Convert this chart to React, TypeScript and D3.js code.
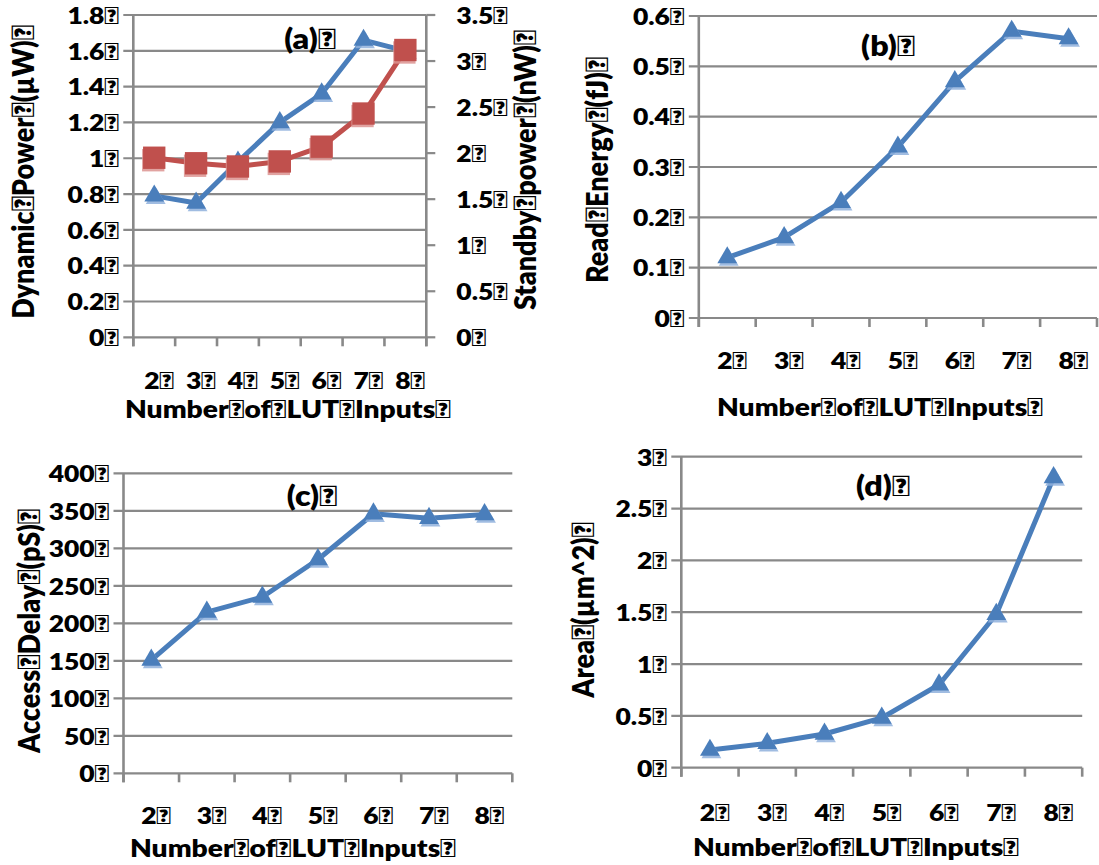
import React from 'react';
import * as d3 from 'd3';

const T = '\uF020';
const categories = ['2', '3', '4', '5', '6', '7', '8'];
const dynamicPower = [0.79, 0.75, 0.98, 1.2, 1.36, 1.66, 1.6];
const standbyPower = [1.95, 1.89, 1.855, 1.91, 2.07, 2.43, 3.12];
const readEnergy = [0.12, 0.16, 0.23, 0.34, 0.47, 0.57, 0.555];
const accessDelay = [151, 215, 235, 285, 346, 340, 345];
const areaVals = [0.17, 0.235, 0.325, 0.48, 0.8, 1.48, 2.8];

const ticksA = [0, 0.2, 0.4, 0.6, 0.8, 1, 1.2, 1.4, 1.6, 1.8];
const ticksARight = [0, 0.5, 1, 1.5, 2, 2.5, 3, 3.5];
const ticksB = [0, 0.1, 0.2, 0.3, 0.4, 0.5, 0.6];
const ticksC = [0, 50, 100, 150, 200, 250, 300, 350, 400];
const ticksD = [0, 0.5, 1, 1.5, 2, 2.5, 3];

const xTitle = 'Number' + T + 'of' + T + 'LUT' + T + 'Inputs' + T;

const BLUE = '#4a7ebb';
const BLUE_SH = '#8fb0dc';
const RED = '#c0504d';
const RED_SH = '#dc9391';
const GRID = '#898989';
const FONT = 'Lato, "Open Sans", sans-serif';
const SX = 1.15;

function HText(props: { x: number; y: number; anchor: string; size: number; children: string }) {
  return (
    <text
      transform={`translate(${props.x},${props.y}) scale(${SX},1)`}
      textAnchor={props.anchor}
      dominantBaseline="central"
      fontSize={props.size}
    >
      {props.children}
    </text>
  );
}

function VText(props: { x: number; y: number; size: number; children: string }) {
  return (
    <text
      transform={`translate(${props.x},${props.y}) rotate(-90) scale(1,${SX})`}
      textAnchor="middle"
      dominantBaseline="central"
      fontSize={props.size}
    >
      {props.children}
    </text>
  );
}

type Series = { values: number[]; color: string; shadow: string; marker: 'tri' | 'sq'; axis: 'l' | 'r' };
type PanelProps = {
  box: { left: number; right: number; top: number; bottom: number };
  domain: number;
  ticks: number[];
  rDomain?: number;
  rTicks?: number[];
  series: Series[];
  tag: string;
  tagPos: [number, number];
  yLabel: string;
  yLabelPos: [number, number];
  rLabel?: string;
  rLabelPos?: [number, number];
  catY: number;
  titlePos: [number, number];
};

function Panel(p: PanelProps) {
  const { box } = p;
  const x = d3.scaleBand<string>().domain(categories).range([box.left, box.right]);
  const y = d3.scaleLinear().domain([0, p.domain]).range([box.bottom, box.top]);
  const yr = p.rDomain ? d3.scaleLinear().domain([0, p.rDomain]).range([box.bottom, box.top]) : y;
  const bounds = categories.map((c) => x(c) as number).concat([box.right]);
  const tri = d3.symbol(d3.symbolTriangle, 170)() as string;
  const sq = d3.symbol(d3.symbolSquare, 500)() as string;
  const fs = 23;
  return (
    <g fontFamily={FONT} fontWeight={800} fill="#000">
      {p.ticks.map((t) => (
        <g key={'g' + t}>
          <line x1={box.left - 10} x2={box.right} y1={y(t)} y2={y(t)} stroke={GRID} strokeWidth={2.2} />
          <HText x={box.left - 14} y={y(t)} anchor="end" size={fs}>
            {String(t) + T}
          </HText>
        </g>
      ))}
      <line x1={box.left} x2={box.left} y1={box.top} y2={box.bottom + 9} stroke={GRID} strokeWidth={2.6} />
      {bounds.map((b, i) => (
        <line key={'xt' + i} x1={b} x2={b} y1={box.bottom} y2={box.bottom + 9} stroke={GRID} strokeWidth={2.6} />
      ))}
      {p.rDomain && p.rTicks && (
        <g>
          <line x1={box.right} x2={box.right} y1={box.top} y2={box.bottom + 9} stroke={GRID} strokeWidth={2.6} />
          {p.rTicks.map((t) => (
            <g key={'r' + t}>
              <line x1={box.right} x2={box.right + 9} y1={yr(t)} y2={yr(t)} stroke={GRID} strokeWidth={2.2} />
              <HText x={box.right + 30} y={yr(t)} anchor="start" size={fs}>
                {String(t) + T}
              </HText>
            </g>
          ))}
        </g>
      )}
      {categories.map((c) => (
        <HText key={'c' + c} x={(x(c) as number) + x.bandwidth() / 2 + 5} y={p.catY} anchor="middle" size={fs}>
          {c + T}
        </HText>
      ))}
      {p.series.map((s, si) => {
        const sc = s.axis === 'r' ? yr : y;
        const line = d3
          .line<number>()
          .x((_, i) => (x(categories[i]) as number) + x.bandwidth() / 2)
          .y((v) => sc(v));
        return (
          <g key={'s' + si}>
            <path d={line(s.values) as string} fill="none" stroke={s.color} strokeWidth={5} strokeLinejoin="round" />
            {s.values.map((v, i) => {
              const cx = (x(categories[i]) as number) + x.bandwidth() / 2;
              const cy = sc(v);
              const d = s.marker === 'tri' ? tri : sq;
              return (
                <g key={'m' + i}>
                  <path d={d} transform={`translate(${cx + (s.marker === 'tri' ? 1.5 : -1)},${cy + 2.5})`} fill={s.shadow} opacity={0.85} />
                  <path d={d} transform={`translate(${cx},${cy})`} fill={s.color} />
                </g>
              );
            })}
          </g>
        );
      })}
      <HText x={p.tagPos[0]} y={p.tagPos[1]} anchor="middle" size={28}>
        {p.tag + T}
      </HText>
      <VText x={p.yLabelPos[0]} y={p.yLabelPos[1]} size={27}>
        {p.yLabel}
      </VText>
      {p.rLabel && p.rLabelPos && (
        <VText x={p.rLabelPos[0]} y={p.rLabelPos[1]} size={27}>
          {p.rLabel}
        </VText>
      )}
      <HText x={p.titlePos[0]} y={p.titlePos[1]} anchor="middle" size={24.5}>
        {xTitle}
      </HText>
    </g>
  );
}

export default function App() {
  return (
    <svg width={1099} height={865} style={{ position: 'absolute', left: 0, top: 0, background: '#fff' }}>
      <rect width={1099} height={865} fill="#fff" />
      <Panel
        box={{ left: 133.3, right: 426.3, top: 15, bottom: 337.3 }}
        domain={1.8}
        ticks={ticksA}
        rDomain={3.5}
        rTicks={ticksARight}
        series={[
          { values: dynamicPower, color: BLUE, shadow: BLUE_SH, marker: 'tri', axis: 'l' },
          { values: standbyPower, color: RED, shadow: RED_SH, marker: 'sq', axis: 'r' },
        ]}
        tag="(a)"
        tagPos={[310, 38]}
        yLabel={'Dynamic' + T + 'Power' + T + '(µW)' + T}
        yLabelPos={[22, 172]}
        rLabel={'Standby' + T + 'power' + T + '(nW)' + T}
        rLabelPos={[524, 170]}
        catY={380}
        titlePos={[288, 409]}
      />
      <Panel
        box={{ left: 698.8, right: 1097, top: 16, bottom: 318 }}
        domain={0.6}
        ticks={ticksB}
        series={[{ values: readEnergy, color: BLUE, shadow: BLUE_SH, marker: 'tri', axis: 'l' }]}
        tag="(b)"
        tagPos={[888, 45]}
        yLabel={'Read' + T + 'Energy' + T + '(fJ)' + T}
        yLabelPos={[596, 170]}
        catY={360}
        titlePos={[880, 407]}
      />
      <Panel
        box={{ left: 123.5, right: 512.3, top: 473.3, bottom: 773.3 }}
        domain={400}
        ticks={ticksC}
        series={[{ values: accessDelay, color: BLUE, shadow: BLUE_SH, marker: 'tri', axis: 'l' }]}
        tag="(c)"
        tagPos={[312, 495]}
        yLabel={'Access' + T + 'Delay' + T + '(pS)' + T}
        yLabelPos={[28, 631]}
        catY={815}
        titlePos={[293, 848]}
      />
      <Panel
        box={{ left: 681.3, right: 1082.2, top: 456.7, bottom: 767.7 }}
        domain={3}
        ticks={ticksD}
        series={[{ values: areaVals, color: BLUE, shadow: BLUE_SH, marker: 'tri', axis: 'l' }]}
        tag="(d)"
        tagPos={[883, 485]}
        yLabel={'Area' + T + '(µm^2)' + T}
        yLabelPos={[582, 610]}
        catY={812}
        titlePos={[856, 847]}
      />
    </svg>
  );
}
